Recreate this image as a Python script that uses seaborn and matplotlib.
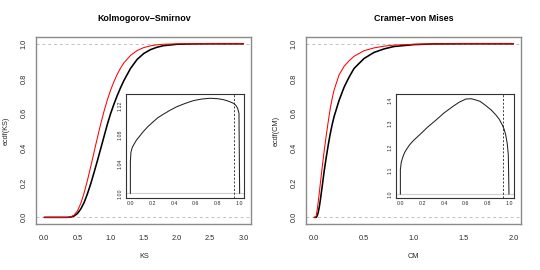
import numpy as np
import pandas as pd
import matplotlib
matplotlib.use("Agg")
import matplotlib.pyplot as plt
import seaborn as sns

# ---------------- data ----------------
ks_x = [0.0, 0.35, 0.40, 0.45, 0.50, 0.55, 0.60, 0.65, 0.70, 0.75, 0.80, 0.85,
        0.90, 0.95, 1.00, 1.05, 1.10, 1.15, 1.20, 1.30, 1.40, 1.50, 1.60, 1.70,
        1.80, 2.00, 2.20, 2.50, 3.00]
ks_sim = [0.0, 0.0, 0.002, 0.008, 0.022, 0.048, 0.085, 0.135, 0.193, 0.258, 0.325,
          0.395, 0.465, 0.535, 0.598, 0.652, 0.702, 0.747, 0.788, 0.858, 0.910,
          0.944, 0.966, 0.980, 0.989, 0.997, 0.999, 1.0, 1.0]
ks_asym = [0.0, 0.0, 0.003, 0.013, 0.037, 0.080, 0.140, 0.212, 0.292, 0.375, 0.458,
           0.537, 0.610, 0.676, 0.733, 0.782, 0.824, 0.860, 0.890, 0.933, 0.961,
           0.978, 0.988, 0.994, 0.997, 0.9994, 1.0, 1.0, 1.0]

cm_x = [0.0, 0.01, 0.02, 0.03, 0.04, 0.05, 0.06, 0.08, 0.10, 0.12, 0.14, 0.16,
        0.18, 0.20, 0.25, 0.30, 0.35, 0.40, 0.50, 0.60, 0.70, 0.80, 1.00, 1.20,
        1.50, 2.00]
cm_sim = [0.0, 0.0, 0.0, 0.010, 0.030, 0.058, 0.095, 0.180, 0.268, 0.345, 0.415,
          0.480, 0.535, 0.582, 0.675, 0.750, 0.808, 0.858, 0.915, 0.950, 0.970,
          0.984, 0.995, 0.999, 1.0, 1.0]
cm_asym = [0.0, 0.0, 0.010, 0.045, 0.090, 0.140, 0.190, 0.290, 0.385, 0.470, 0.550,
           0.625, 0.685, 0.735, 0.822, 0.870, 0.902, 0.928, 0.960, 0.976, 0.986,
           0.992, 0.997, 0.999, 1.0, 1.0]

ks_in_x = [0.0, 0.0, 0.005, 0.018, 0.055, 0.117, 0.16, 0.209, 0.25, 0.30, 0.36,
           0.423, 0.50, 0.577, 0.65, 0.73, 0.80, 0.853, 0.90, 0.945, 0.965, 0.982,
           0.994, 1.0]
ks_in_y = [1.0, 1.043, 1.056, 1.063, 1.0725, 1.084, 1.091, 1.0976, 1.103, 1.1077,
           1.113, 1.118, 1.1225, 1.1264, 1.1285, 1.1296, 1.129, 1.1277, 1.1255,
           1.1227, 1.120, 1.1159, 1.109, 1.0]
cm_in_x = [0.0, 0.0, 0.008, 0.024, 0.04, 0.06, 0.085, 0.12, 0.176, 0.25, 0.327,
           0.40, 0.479, 0.54, 0.60, 0.65, 0.69, 0.73, 0.782, 0.83, 0.873, 0.905,
           0.933, 0.95, 0.964, 0.978, 0.988, 0.994]
cm_in_y = [1.0, 1.104, 1.135, 1.16, 1.178, 1.193, 1.21, 1.228, 1.252, 1.285, 1.315,
           1.345, 1.372, 1.391, 1.404, 1.405, 1.40, 1.394, 1.376, 1.358, 1.337,
           1.318, 1.294, 1.275, 1.252, 1.215, 1.168, 1.0]
ks_cut = 0.95
cm_cut = 0.94

ks_xticks = [0.0, 0.5, 1.0, 1.5, 2.0, 2.5, 3.0]
cm_xticks = [0.0, 0.5, 1.0, 1.5, 2.0]
main_yticks = [0.0, 0.2, 0.4, 0.6, 0.8, 1.0]
in_xticks = [0.0, 0.2, 0.4, 0.6, 0.8, 1.0]
ks_in_yticks = [1.00, 1.04, 1.08, 1.12]
cm_in_yticks = [1.0, 1.1, 1.2, 1.3, 1.4]

# ---------------- drawing ----------------
sns.set_style("white")
plt.rcParams['font.family'] = ['Liberation Sans', 'DejaVu Sans']

W, H = 540, 270
fig = plt.figure(figsize=(W / 100, H / 100), dpi=100)

def rect(x0, y0, x1, y1):
    return [x0 / W, 1 - y1 / H, (x1 - x0) / W, (y1 - y0) / H]

SPINE = '#8a8a8a'
TXT = '#2a2a2a'
FS = 5.3

def main_panel(r, x, sim, asym, xticks, xmax, title, xlabel, ylabel):
    ax = fig.add_axes(r)
    ax.axhline(0, color='#c0c0c0', lw=0.7, ls=(0, (3, 3)), zorder=1)
    ax.axhline(1, color='#c0c0c0', lw=0.7, ls=(0, (3, 3)), zorder=1)
    sns.lineplot(x=x, y=sim, ax=ax, color='black', lw=1.15, estimator=None,
                 sort=False, zorder=3)
    sns.lineplot(x=x, y=asym, ax=ax, color='red', lw=0.75, estimator=None,
                 sort=False, zorder=4)
    ax.set_xlim(-0.04 * xmax, 1.04 * xmax)
    ax.set_ylim(-0.04, 1.04)
    ax.set_xticks(xticks)
    ax.set_xticklabels([f"{t:.1f}" for t in xticks])
    ax.set_yticks(main_yticks)
    ax.set_yticklabels([f"{t:.1f}" for t in main_yticks], rotation=90, va='center')
    for s in ax.spines.values():
        s.set_visible(True)
        s.set_color(SPINE)
        s.set_linewidth(1.0)
    ax.tick_params(axis='both', which='major', direction='out', length=3.6,
                   width=0.8, color=SPINE, labelsize=FS, labelcolor=TXT)
    ax.tick_params(axis='x', pad=4.0)
    ax.tick_params(axis='y', pad=2.8)
    ax.set_xlabel(xlabel, fontsize=FS, color=TXT)
    ax.set_ylabel(ylabel, fontsize=FS, color=TXT)
    ax.xaxis.set_label_coords(0.5, -0.173)
    ax.xaxis.label.set_va('center')
    ax.yaxis.set_label_coords(-0.141, 0.5)
    ax.yaxis.label.set_va('center')
    ax.text(0.5, 1.099, title, transform=ax.transAxes, ha='center', va='center',
            fontsize=6.4, fontweight='bold', color='black')
    return ax

def inset_panel(r, x, y, cut, yticks, ylim, yfmt):
    ax = fig.add_axes(r)
    ax.axhline(1.0, color='#cfcfcf', lw=0.8, zorder=1)
    sns.lineplot(x=x, y=y, ax=ax, color='#222222', lw=0.75, estimator=None,
                 sort=False, zorder=3)
    ax.axvline(cut, color='#222222', lw=0.6, ls=(0, (2.5, 2)), zorder=2)
    ax.set_xlim(-0.04, 1.04)
    ax.set_ylim(*ylim)
    ax.set_xticks(in_xticks)
    ax.set_xticklabels([f"{t:.1f}" for t in in_xticks])
    ax.set_yticks(yticks)
    ax.set_yticklabels([yfmt.format(t) for t in yticks], rotation=90, va='center')
    for s in ax.spines.values():
        s.set_visible(True)
        s.set_color('#333333')
        s.set_linewidth(0.8)
    ax.tick_params(axis='both', which='major', direction='out', length=1.6,
                   width=0.5, color='#555555', labelsize=3.8, labelcolor=TXT,
                   pad=1.2)
    ax.set_xlabel('')
    ax.set_ylabel('')
    return ax

main_panel(rect(36.3, 36.8, 251.3, 224.3), ks_x, ks_sim, ks_asym, ks_xticks, 3.0,
           "Kolmogorov\u2212Smirnov", "KS", "ecdf(KS)")
main_panel(rect(306.3, 36.8, 521.3, 224.3), cm_x, cm_sim, cm_asym, cm_xticks, 2.0,
           "Cramer\u2212von Mises", "CM", "ecdf(CM)")

inset_panel(rect(126, 94.3, 244, 197.5), ks_in_x, ks_in_y, ks_cut, ks_in_yticks,
            (0.9945, 1.135), "{:.2f}")
inset_panel(rect(396, 94.3, 514, 197.5), cm_in_x, cm_in_y, cm_cut, cm_in_yticks,
            (0.986, 1.424), "{:.1f}")

fig.savefig("out.png", dpi=100, facecolor='white')
